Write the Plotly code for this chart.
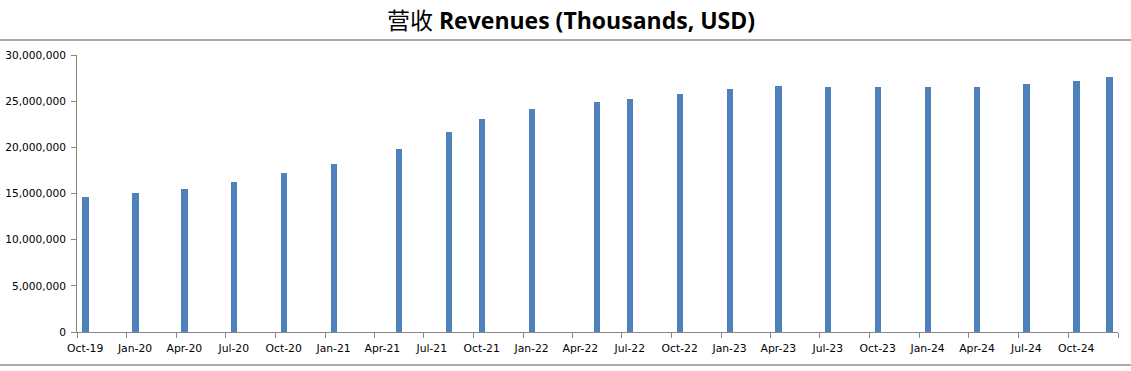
import plotly.graph_objects as go

# Data
months = ["2019-10-01", "2020-01-01", "2020-04-01", "2020-07-01", "2020-10-01", "2021-01-01",
          "2021-05-01", "2021-08-01", "2021-10-01", "2022-01-01", "2022-05-01", "2022-07-01",
          "2022-10-01", "2023-01-01", "2023-04-01", "2023-07-01", "2023-10-01", "2024-01-01",
          "2024-04-01", "2024-07-01", "2024-10-01", "2024-12-01"]
revenues = [14590000, 15020000, 15460000, 16210000, 17190000, 18160000,
            19790000, 21630000, 23040000, 24120000, 24880000, 25200000,
            25740000, 26280000, 26610000, 26500000, 26500000, 26500000,
            26500000, 26830000, 27150000, 27580000]

tick_dates = ["2019-10-01", "2020-01-01", "2020-04-01", "2020-07-01", "2020-10-01", "2021-01-01",
              "2021-04-01", "2021-07-01", "2021-10-01", "2022-01-01", "2022-04-01", "2022-07-01",
              "2022-10-01", "2023-01-01", "2023-04-01", "2023-07-01", "2023-10-01", "2024-01-01",
              "2024-04-01", "2024-07-01", "2024-10-01"]
label_dates = [d[:8] + "16" for d in tick_dates]
tick_labels = ["Oct-19", "Jan-20", "Apr-20", "Jul-20", "Oct-20", "Jan-21", "Apr-21", "Jul-21",
               "Oct-21", "Jan-22", "Apr-22", "Jul-22", "Oct-22", "Jan-23", "Apr-23", "Jul-23",
               "Oct-23", "Jan-24", "Apr-24", "Jul-24", "Oct-24"]
minor_ticks = tick_dates + ["2025-01-01"]

W, H = 1131, 371
ml, mr, mt, mb = 77, 13, 55, 39
pw = W - ml - mr
ph = H - mt - mb

fig = go.Figure()
fig.add_trace(go.Bar(
    x=months, y=revenues,
    xperiod="M1", xperiodalignment="middle",
    width=12 * 86400000,
    marker=dict(color="#4F81BD", line=dict(width=0)),
    hoverinfo="x+y",
))

axis_gray = "#868686"
fig.update_layout(
    width=W, height=H,
    margin=dict(l=ml, r=mr, t=mt, b=mb, pad=0, autoexpand=False),
    paper_bgcolor="white", plot_bgcolor="white",
    showlegend=False,
    title=dict(
        text="营收 <b>Revenues (Thousands, USD)</b>",
        x=571 / W, xanchor="center", xref="container",
        y=1 - 21 / H, yanchor="middle", yref="container",
        font=dict(family="Open Sans, Noto Sans CJK SC", size=23, color="#000000"),
    ),
    xaxis=dict(
        type="date", automargin=False,
        range=["2019-10-01", "2025-01-01"],
        tickmode="array", tickvals=label_dates, ticktext=tick_labels,
        ticks="", showgrid=False, zeroline=False,
        showline=True, linecolor=axis_gray, linewidth=1,
        tickfont=dict(family="DejaVu Sans", size=10.8, color="#000000"),
        ticklabelstandoff=6,
        minor=dict(tickmode="array", tickvals=minor_ticks, ticks="outside",
                   ticklen=5, tickcolor=axis_gray, tickwidth=1, showgrid=False),
    ),
    yaxis=dict(
        automargin=False,
        range=[0, 30000000], dtick=5000000, tick0=0,
        tickformat=",d",
        ticks="outside", ticklen=5, tickcolor=axis_gray, tickwidth=1,
        showgrid=False, zeroline=False,
        showline=True, linecolor=axis_gray, linewidth=1,
        tickfont=dict(family="DejaVu Sans", size=10.6, color="#000000"),
        ticklabelstandoff=3,
    ),
    bargap=0,
)

# horizontal separator lines across the full image width
for ypx in (40, 365):
    fig.add_shape(type="line", xref="paper", yref="paper",
                  x0=-ml / pw, x1=(W - ml) / pw,
                  y0=(H - mb - ypx) / ph, y1=(H - mb - ypx) / ph,
                  line=dict(color="#8C8C8C", width=1.5))

fig.write_html("out.html", config={"displayModeBar": False},
               post_script="document.body.style.margin='0';")
